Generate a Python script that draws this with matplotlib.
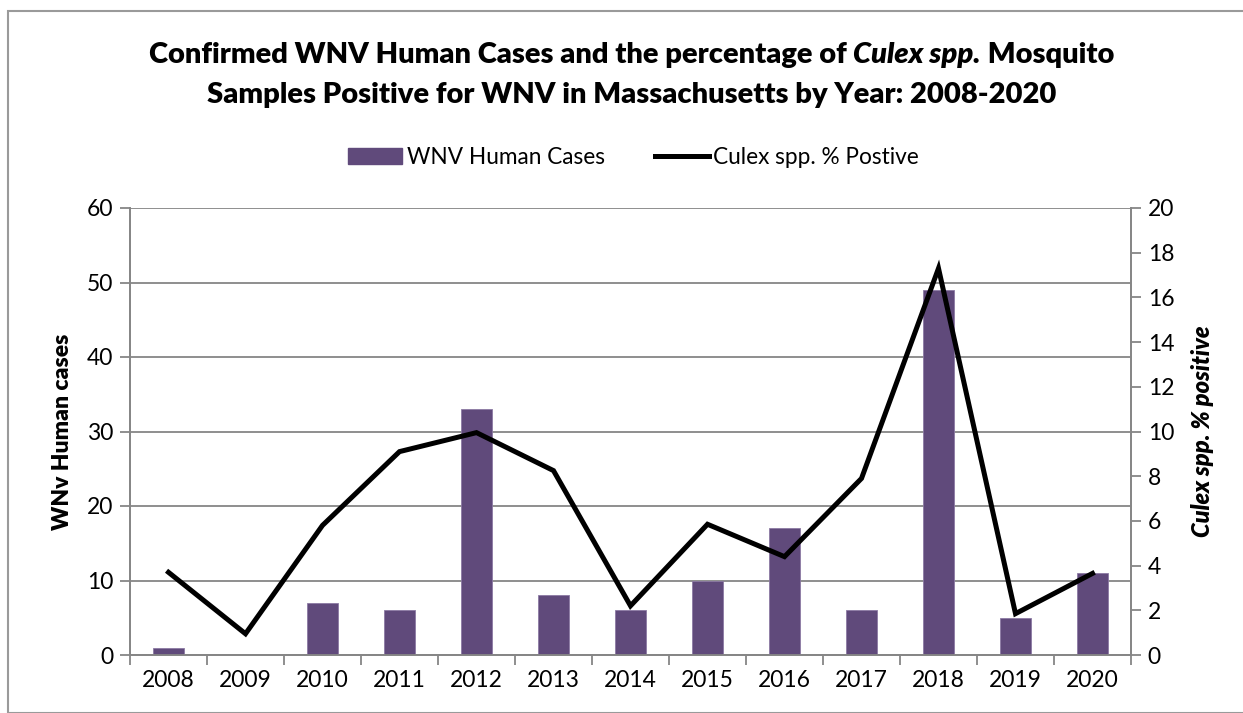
import matplotlib
matplotlib.use("Agg")
import matplotlib.pyplot as plt
from matplotlib.patches import Rectangle
from matplotlib.lines import Line2D
from matplotlib.patches import Patch

plt.rcParams['font.family'] = ['Lato', 'DejaVu Sans']

# data
years = ['2008', '2009', '2010', '2011', '2012', '2013', '2014',
         '2015', '2016', '2017', '2018', '2019', '2020']
human_cases = [1, 0, 7, 6, 33, 8, 6, 10, 17, 6, 49, 5, 11]
culex_pct = [3.7, 0.95, 5.8, 9.1, 9.95, 8.25, 2.2, 5.85, 4.4, 7.9, 17.3, 1.85, 3.65]

bar_color = '#604A7B'
grid_color = '#868686'

W, H = 1243, 713
fig = plt.figure(figsize=(W / 100, H / 100), dpi=100)
ax = fig.add_axes([130 / W, 1 - 655 / H, (1131 - 130) / W, (655 - 208) / H])
ax2 = ax.twinx()

x = list(range(len(years)))
ax.bar(x, human_cases, width=0.39, color=bar_color, edgecolor='#8C7AA3',
       linewidth=0.6, zorder=3)
ax2.plot(x, culex_pct, color='black', linewidth=3.6, solid_joinstyle='miter', zorder=4)

ax.set_ylim(0, 60)
ax.set_yticks(range(0, 61, 10))
ax2.set_ylim(0, 20)
ax2.set_yticks(range(0, 21, 2))
ax.set_xlim(-0.5, len(years) - 0.5)

# category boundaries as major ticks, labels on minor ticks
ax.set_xticks([i - 0.5 for i in range(len(years) + 1)])
ax.set_xticklabels([])
ax.set_xticks(x, minor=True)
ax.set_xticklabels(years, minor=True)
ax.tick_params(axis='x', which='minor', length=0, pad=11, labelsize=16.5)
ax.tick_params(axis='x', which='major', length=7, width=1.3, color=grid_color)
ax.tick_params(axis='y', length=7, width=1.3, color=grid_color, labelsize=16.5, pad=5)
ax2.tick_params(axis='y', length=7, width=1.3, color=grid_color, labelsize=16.5, pad=5)

ax.yaxis.grid(True, color=grid_color, linewidth=1.3, zorder=0)
ax.set_axisbelow(True)
for a in (ax, ax2):
    a.spines['top'].set_visible(False)
    for s in ('left', 'right', 'bottom'):
        a.spines[s].set_color(grid_color)
        a.spines[s].set_linewidth(1.3)
ax2.set_zorder(ax.get_zorder() + 1)
ax2.patch.set_visible(False)

ax.set_ylabel('WNv Human cases', fontsize=16.5, fontweight='heavy', labelpad=10)
ax2.set_ylabel('Culex spp. % positive', fontsize=17, fontweight='heavy',
               style='italic', rotation=90, labelpad=12)

# title with italic part, assembled piece by piece
fig.canvas.draw()
renderer = fig.canvas.get_renderer()


def centered_line(pieces, y):
    texts = [fig.text(0, y, t, fontsize=21, fontweight='heavy', style=st,
                      ha='left', va='center') for t, st in pieces]
    widths = [t.get_window_extent(renderer).width for t in texts]
    total = sum(widths)
    x0 = (W / 2 + 10) - total / 2
    for t, w in zip(texts, widths):
        t.set_x(x0 / W)
        x0 += w


centered_line([('Confirmed WNV Human Cases and the percentage of ', 'normal'),
               ('Culex spp.', 'italic'),
               (' Mosquito', 'normal')], 1 - 55 / H)
centered_line([('Samples Positive for WNV in Massachusetts by Year: 2008-2020', 'normal')],
              1 - 95 / H)

handles = [Patch(facecolor=bar_color, edgecolor=bar_color),
           Line2D([0], [0], color='black', linewidth=3.6)]
fig.legend(handles, ['WNV Human Cases', 'Culex spp. % Postive'],
           loc='center', bbox_to_anchor=(0.5 + 12 / W, 1 - 157 / H), ncol=2,
           frameon=False, fontsize=16.3, handlelength=2.4, handletextpad=0.2,
           columnspacing=2.2)

# outer chart border
fig.patches.append(Rectangle((8 / W, 0), 1.2, 1 - 11 / H, transform=fig.transFigure,
                             fill=False, edgecolor='#9a9a9a', linewidth=1.5))

fig.savefig('out.png', dpi=100)
